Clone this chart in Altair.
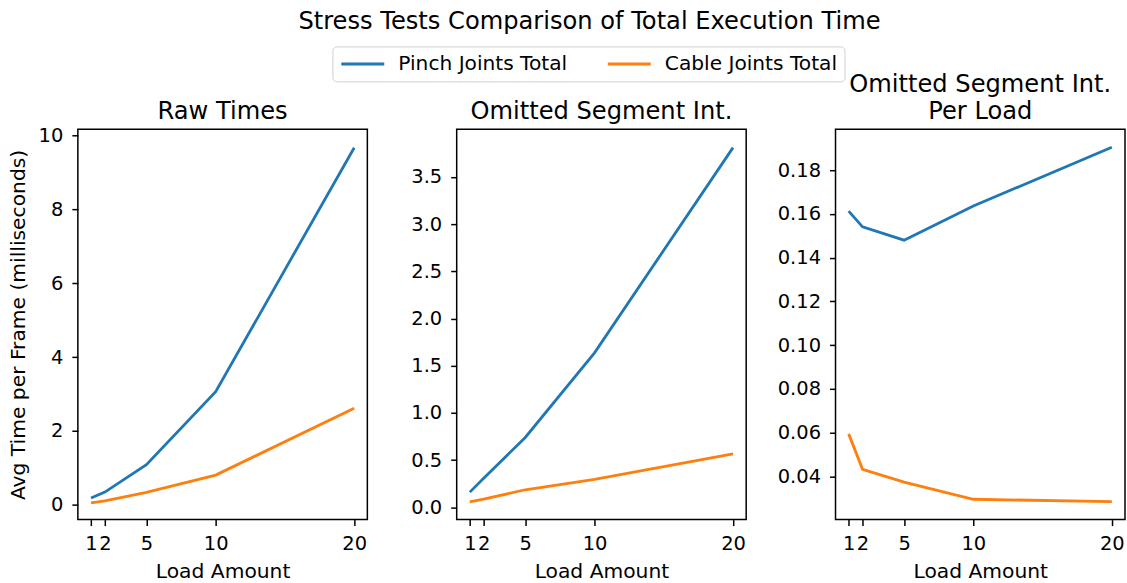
import altair as alt
import pandas as pd

loads = [1, 2, 5, 10, 20]
series_names = ["Pinch Joints Total", "Cable Joints Total"]
series_colors = ["#1f77b4", "#ff7f0e"]

raw_pinch = [0.18, 0.34, 1.08, 3.06, 9.67]
raw_cable = [0.05, 0.10, 0.33, 0.80, 2.61]
omit_pinch = [0.161, 0.308, 0.74, 1.636, 3.81]
omit_cable = [0.059, 0.086, 0.186, 0.295, 0.566]
perload_pinch = [0.1613, 0.1541, 0.1480, 0.1636, 0.1905]
perload_cable = [0.0594, 0.0432, 0.0373, 0.0295, 0.0284]

suptitle = "Stress Tests Comparison of Total Execution Time"
panel_titles = [["Raw Times"], ["Omitted Segment Int."], ["Omitted Segment Int.", "Per Load"]]
y_title = "Avg Time per Frame (milliseconds)"
x_title = "Load Amount"
ticks1 = [0, 2, 4, 6, 8, 10]
ticks2 = [0.0, 0.5, 1.0, 1.5, 2.0, 2.5, 3.0, 3.5]
ticks3 = [0.04, 0.06, 0.08, 0.10, 0.12, 0.14, 0.16, 0.18]

FONT = "DejaVu Sans"
W, H = 290, 391
TITLE_SIZE = 24.2


def frame(pinch, cable):
    rows = []
    for name, vals in zip(series_names, [pinch, cable]):
        for l, v in zip(loads, vals):
            rows.append({"load": l, "series": name, "value": v})
    return pd.DataFrame(rows)


legend = alt.Legend(
    title=None, orient="none", legendX=255, legendY=-83, direction="horizontal",
    symbolType="M-1,0H4", symbolSize=296, symbolStrokeWidth=3,
    labelFontSize=20.2, labelFont=FONT, labelColor="black", labelOffset=38,
    labelLimit=400, columnPadding=33, padding=7, strokeColor="#d0d0d0",
    cornerRadius=4, fillColor="white",
)


def title_layer(lines, xpos, ybase):
    layers = []
    for i, line in enumerate(lines):
        y = ybase - 26.7 * (len(lines) - 1 - i)
        layers.append(
            alt.Chart(pd.DataFrame({"t": [line]})).mark_text(
                fontSize=TITLE_SIZE, font=FONT, color="black", align="center",
                baseline="alphabetic",
            ).encode(text="t:N", x=alt.value(xpos), y=alt.value(y))
        )
    return layers


def panel(pinch, cable, title_lines, ydomain, yticks, yfmt, ytitle, extra=None):
    x = alt.X("load:Q", title=x_title,
              scale=alt.Scale(domain=[0.05, 20.95], nice=False, zero=False),
              axis=alt.Axis(values=loads, format="d", labelFlush=False))
    yaxis = alt.Axis(values=yticks, format=yfmt, labelFlush=False)
    y = alt.Y("value:Q", title=ytitle if ytitle else None,
              scale=alt.Scale(domain=ydomain, nice=False, zero=False),
              axis=yaxis)
    lines = alt.Chart(frame(pinch, cable)).mark_line(strokeWidth=2.8).encode(
        x=x, y=y,
        color=alt.Color("series:N", scale=alt.Scale(domain=series_names, range=series_colors),
                        legend=legend, sort=series_names),
    )
    layers = [lines] + title_layer(title_lines, W / 2, -10.5)
    if extra:
        layers += extra
    return alt.layer(*layers).properties(width=W, height=H)


p1 = panel(raw_pinch, raw_cable, panel_titles[0], [-0.405, 10.17], ticks1, "d", y_title)
p2 = panel(omit_pinch, omit_cable, panel_titles[1], [-0.13, 4.004], ticks2, ".1f", None,
           extra=title_layer([suptitle], 133, -100.5))
p3 = panel(perload_pinch, perload_cable, panel_titles[2], [0.0202, 0.1987], ticks3, ".2f", None)

chart = alt.hconcat(p1, p2, p3, spacing=89.5, bounds="flush").properties(
    padding={"left": 7, "top": 8, "right": 1, "bottom": 0},
).configure_view(
    stroke="black", strokeWidth=1.5
).configure_axis(
    domain=False, grid=False, ticks=True, tickColor="black", tickWidth=1.5, tickSize=6,
    labelFont=FONT, labelFontSize=19.5, labelColor="black", labelPadding=9,
    titleFont=FONT, titleFontSize=20.3, titleFontWeight="normal", titleColor="black",
    titlePadding=10,
).configure_axisX(
    labelPadding=9, titlePadding=9
)

chart.save("out.html", embed_options={"renderer": "svg", "actions": False})
